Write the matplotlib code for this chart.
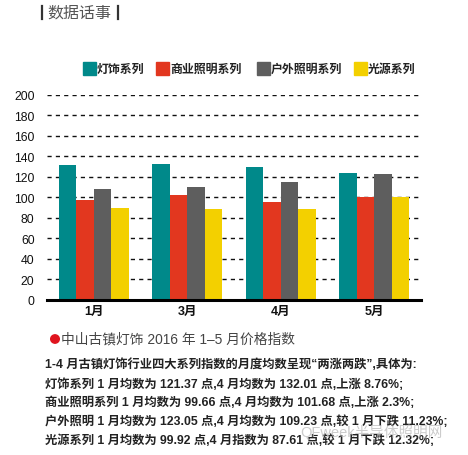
import matplotlib
matplotlib.use("Agg")
import matplotlib.pyplot as plt
from matplotlib.patches import Rectangle, Circle
from matplotlib.lines import Line2D
import numpy as np

plt.rcParams['font.family'] = ['Liberation Sans', 'Noto Sans CJK SC', 'DejaVu Sans']

# ---- data ----
months = ['1月', '3月', '4月', '5月']
series_names = ['灯饰系列', '商业照明系列', '户外照明系列', '光源系列']
dengshi = [131, 132.5, 129.5, 123.7]
shangye = [97.3, 102.2, 95.4, 100]
huwai = [108, 110, 115, 122.7]
guangyuan = [89.8, 88.5, 88.5, 100]
yticks = [0, 20, 40, 60, 80, 100, 120, 140, 160, 180, 200]
colors = ['#00898A', '#E2371F', '#5E5E5E', '#F3D000']

title = '数据话事'
subtitle = '中山古镇灯饰 2016 年 1–5 月价格指数'
body = [
    '1-4 月古镇灯饰行业四大系列指数的月度均数呈现“两涨两跌”,具体为:',
    '灯饰系列 1 月均数为 121.37 点,4 月均数为 132.01 点,上涨 8.76%;',
    '商业照明系列 1 月均数为 99.66 点,4 月均数为 101.68 点,上涨 2.3%;',
    '户外照明 1 月均数为 123.05 点,4 月均数为 109.23 点,较 1 月下跌 11.23%;',
    '光源系列 1 月均数为 99.92 点,4 月指数为 87.61 点,较 1 月下跌 12.32%;',
]
watermark = 'QFweek半导体照明网'

W, H = 468, 456
fig = plt.figure(figsize=(W / 100, H / 100), dpi=100)
fig.patch.set_facecolor('white')

def fx(px):
    return px / W

def fy(py):
    return 1 - py / H

ax = fig.add_axes([fx(47), fy(300.7), fx(421) - fx(47), fy(95.7) - fy(300.7)])
data = [dengshi, shangye, huwai, guangyuan]
x = np.arange(len(months))
bw = 0.187
for i, (vals, c) in enumerate(zip(data, colors)):
    ax.bar(x + (i - 1.5) * bw, vals, width=bw, color=c, zorder=3, linewidth=0)

ax.set_xlim(-0.5, len(months) - 0.5)
ax.set_ylim(0, 200)
ax.set_yticks(yticks)
ax.set_yticklabels([str(v) for v in yticks], fontsize=8.8, color='#111111')
ax.set_xticks(x)
ax.set_xticklabels(months, fontsize=9, fontweight='bold', color='#111111')
ax.tick_params(axis='y', length=0, pad=9)
ax.tick_params(axis='x', length=0, pad=4)
for s in ['top', 'right', 'left']:
    ax.spines[s].set_visible(False)
ax.spines['bottom'].set_linewidth(2.2)
ax.spines['bottom'].set_color('black')
ax.spines['bottom'].set_zorder(5)
ax.yaxis.grid(True, linestyle=(0, (3.0, 3.0)), color='#111111', linewidth=1.0, zorder=0)
ax.set_axisbelow(True)

# ---- title ----
fig.add_artist(Line2D([fx(42), fx(42)], [fy(7), fy(20)], color='#333333', lw=1.6))
fig.add_artist(Line2D([fx(118), fx(118)], [fy(7), fy(20)], color='#333333', lw=1.6))
fig.text(fx(47), fy(13.5), title, fontsize=11.5, color='#555555', va='center', ha='left',
         family=['Noto Sans CJK SC'])

# ---- legend ----
leg_x = [83, 156, 257, 354]
for lx, name, c in zip(leg_x, series_names, colors):
    fig.add_artist(Rectangle((fx(lx), fy(75.5)), fx(13), fy(62.5) - fy(75.5), color=c,
                             transform=fig.transFigure))
    fig.text(fx(lx + 14), fy(69), name, fontsize=8.6, fontweight='bold', color='#222222',
             va='center', ha='left', family=['Noto Sans CJK SC'])

# ---- subtitle ----
fig.add_artist(Circle((fx(55), fy(340)), radius=fx(4.3), color='#E0141E',
                      transform=fig.transFigure))
fig.text(fx(61), fy(340), subtitle, fontsize=9.9, color='#444444', va='center', ha='left')

# ---- body ----
ys = [365, 384.3, 403.3, 422, 441]
for yy, line in zip(ys, body):
    fig.text(fx(45), fy(yy), line, fontsize=8.85, fontweight='bold', color='#222222',
             va='center', ha='left')

# ---- watermark ----
fig.text(fx(300), fy(432), watermark, fontsize=10.5, color='#BBBBBB', alpha=0.75,
         va='center', ha='left')

fig.savefig('out.png', dpi=100, facecolor='white')
